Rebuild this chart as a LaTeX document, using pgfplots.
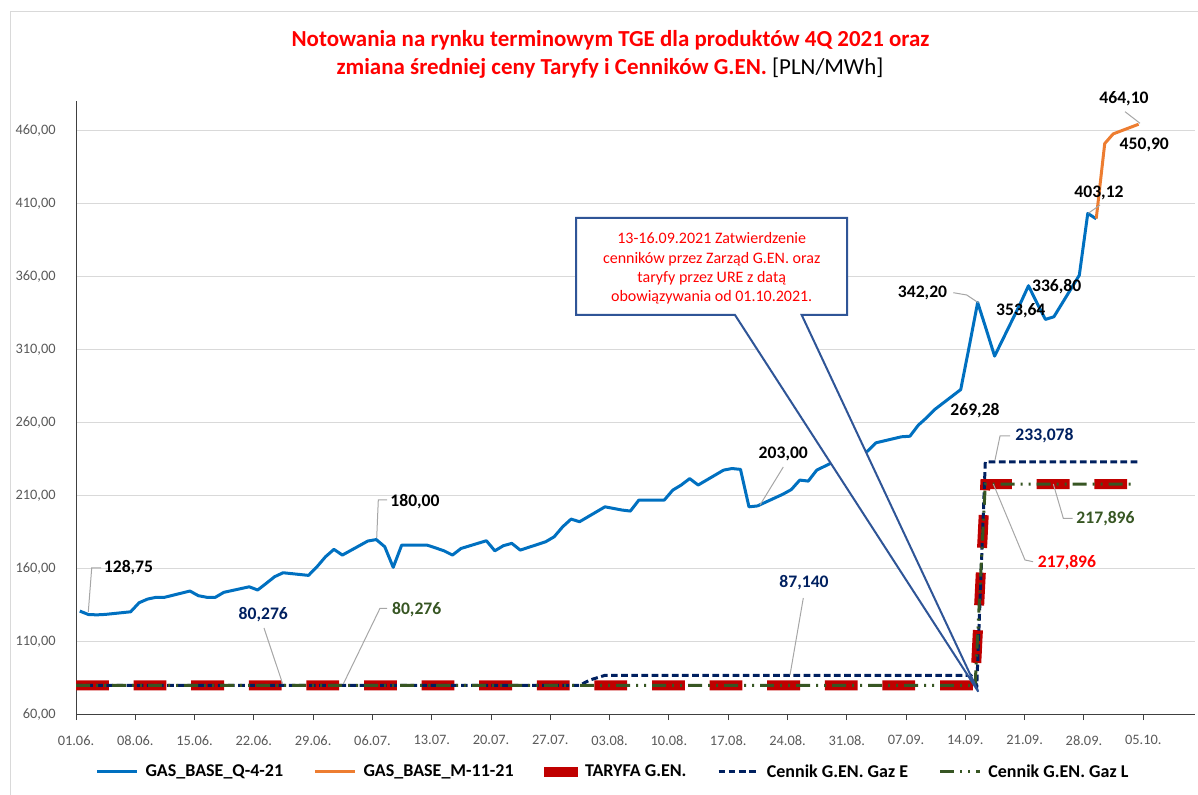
\documentclass[border=0pt]{standalone}
\usepackage{pgfplots}
\pgfplotsset{compat=1.18}
\usepackage{fontspec}
\setmainfont{Carlito}
\definecolor{cblue}{HTML}{0070C0}
\definecolor{corange}{HTML}{ED7D31}
\definecolor{cred}{HTML}{C00000}
\definecolor{cnavy}{HTML}{002060}
\definecolor{cgreen}{HTML}{375623}
\definecolor{cgrid}{HTML}{D9D9D9}
\definecolor{ctick}{HTML}{595959}
\definecolor{ccallout}{HTML}{2F5597}
\definecolor{clead}{HTML}{A6A6A6}
\definecolor{ctitle}{HTML}{FF0000}

\begin{document}
\begin{tikzpicture}
\useasboundingbox (0,0) rectangle (898.5pt,596.25pt);
\begin{axis}[
  at={(57pt,60pt)}, anchor=south west,
  scale only axis, width=839.25pt, height=460.5pt,
  xmin=-0.45, xmax=131.66, ymin=60, ymax=480,
  axis x line*=bottom, axis y line*=left,
  axis line style={draw=black!75, line width=0.75pt, -},
  xtick={-0.45,6.55,13.55,20.55,27.55,34.55,41.55,48.55,55.55,62.55,69.55,76.55,83.55,90.55,97.55,104.55,111.55,118.55,125.55},
  xticklabels={01.06.,08.06.,15.06.,22.06.,29.06.,06.07.,13.07.,20.07.,27.07.,03.08.,10.08.,17.08.,24.08.,31.08.,07.09.,14.09.,21.09.,28.09.,05.10.},
  ytick={60,110,...,460},
  ymajorgrids, grid style={cgrid, line width=0.75pt},
  tick align=outside, major tick length=3.75pt,
  xtick style={draw=black!75, line width=0.75pt},
  ytick style={draw=none},
  /pgf/number format/assume math mode=true,
  /pgf/number format/fixed,
  /pgf/number format/fixed zerofill,
  /pgf/number format/precision=2,
  /pgf/number format/use comma,
  /pgf/number format/1000 sep={},
  ticklabel style={font=\fontsize{10.8}{13}\selectfont, text=ctick},
  xticklabel style={yshift=-8pt},
  yticklabel style={xshift=-8pt},
  legend image code/.code={\draw[#1] (0pt,0pt) -- (30pt,0pt);},
  legend style={at={(0.4803,-0.0928)}, anchor=center, draw=none, fill=none,
    font=\fontsize{13.5}{16}\selectfont\bfseries, legend columns=5,
    /tikz/every odd column/.append style={column sep=3pt},
    /tikz/every even column/.append style={column sep=21pt}},
  legend cell align=left,
]
% GAS_BASE_Q-4-21
\addplot[cblue, line width=2.25pt, line join=round] coordinates {
(0,131.1) (1,128.75) (2,128.5) (3,128.8) (6,130.6) (7,136.8) (8,139.3) (9,140.5) (10,140.5)
(13,144.8) (14,141.6) (15,140.5) (16,140.5) (17,143.9) (20,147.7) (21,145.5) (22,150.0) (23,154.6) (24,157.3)
(27,155.5) (28,161.4) (29,168.2) (30,173.3) (31,169.4) (34,179.0) (35,180.0) (36,175.1) (37,161.0) (38,176.2)
(41,176.2) (42,174.3) (43,172.3) (44,169.4) (45,173.9) (48,179.2) (49,172.3) (50,175.8) (51,177.4) (52,172.8)
(55,178.5) (56,181.9) (57,188.7) (58,194.0) (59,192.2) (62,202.4) (63,201.3) (64,200.2) (65,199.5) (66,207.0)
(69,207.0) (70,213.8) (71,217.3) (72,221.7) (73,217.3) (76,227.5) (77,228.6) (78,228.0) (79,202.4) (80,203.0)
(83,211.0) (84,214.2) (85,220.7) (86,220.0) (87,227.5) (90,236.0) (91,237.5) (92,239.0) (93,240.5) (94,246.2)
(97,250.3) (98,250.7) (99,258.3) (100,263.5) (101,269.28) (104,282.6) (105,312.0) (106,342.2) (107,324.0) (108,305.5)
(111,341.0) (112,353.64) (113,341.8) (114,330.6) (115,332.4) (118,360.8) (119,403.12) (120,399.4)
};
\addlegendentry{GAS\_BASE\_Q-4-21}
% GAS_BASE_M-11-21
\addplot[corange, line width=2.25pt, line join=round] coordinates {
(120,399.6) (121,450.9) (122,457.5) (125,464.1)
};
\addlegendentry{GAS\_BASE\_M-11-21}
% TARYFA G.EN.
\addplot[cred, line width=7.5pt, dash pattern=on 24.6pt off 18.6pt,
  legend image code/.code={\path[fill=cred, draw=none] (0pt,-3.75pt) rectangle (25.5pt,3.75pt);}] coordinates {
(-0.45,80.276) (105.7,80.276) (106.9,217.896) (124.5,217.896)
};
\addlegendentry{TARYFA G.EN.}
% Cennik Gaz E
\addplot[cnavy, line width=2.25pt, dash pattern=on 5pt off 2.6pt] coordinates {
(-0.45,80.276) (59,80.276) (60.2,83.9) (62,87.14) (105.2,87.14) (105.9,80.5) (106.9,233.078) (125,233.078)
};
\addlegendentry{Cennik G.EN. Gaz E}
% Cennik Gaz L
\addplot[cgreen, line width=2.25pt, dash pattern=on 10.5pt off 4.5pt on 1.5pt off 4.5pt on 1.5pt off 4.5pt] coordinates {
(-0.45,80.276) (105.7,80.276) (106.9,217.896) (124.5,217.896)
};
\addlegendentry{Cennik G.EN. Gaz L}
\end{axis}

\begin{scope}[x=0.75pt, y=-0.75pt, yshift=596.25pt]
  % chart border
  \draw[cgrid, line width=0.75pt] (10,800) -- (10,12) -- (1205,12);
  % title
  \node[font=\fontsize{17.2}{20}\selectfont\bfseries, text=ctitle, inner sep=0] at (610.5,40)
    {Notowania na rynku terminowym TGE dla produktów 4Q 2021 oraz};
  \node[font=\fontsize{17.2}{20}\selectfont\bfseries, text=ctitle, inner sep=0] at (610,68)
    {zmiana średniej ceny Taryfy i Cenników G.EN. {\mdseries\color{black}[PLN/MWh]}};
  % callout
  \draw[ccallout, line width=1.5pt, fill=white, line join=miter]
    (576,218) -- (847,218) -- (847,315) -- (801.7,315) -- (978.3,691.7) -- (735,315) -- (576,315) -- cycle;
  \node[text=ctitle, align=center, font=\fontsize{12}{14.6}\selectfont] at (711.7,268.5)
    {13-16.09.2021 Zatwierdzenie\\cenników przez Zarząd G.EN. oraz\\taryfy przez URE z datą\\obowiązywania od 01.10.2021.};
  % leader lines
  \begin{scope}[clead, line width=0.75pt]
    \draw (88.3,612) -- (91.7,568) -- (101,568);
    \draw (376.7,538) -- (378.3,500) -- (387,500);
    \draw (282.7,684) -- (264,628);
    \draw (343.3,684) -- (380,608.3) -- (387,608.3);
    \draw (790,675) -- (803.3,598);
    \draw (760,505) -- (783.3,467);
    \draw (995,460) -- (1000,436) -- (1010,436);
    \draw (993.3,484) -- (1025,560) -- (1033,561.7);
    \draw (1053.3,484) -- (1063.3,518.3) -- (1072.7,518.3);
    \draw (953.3,292.7) -- (966.7,295) -- (978.3,302.7);
    \draw (1088.3,213.3) -- (1100,205);
    \draw (1125,111.7) -- (1140,123.3);
  \end{scope}
  % data labels
  \begin{scope}[every node/.style={font=\fontsize{13.2}{15}\selectfont\bfseries, inner sep=0}]
    \node at (128.5,568) {128,75};
    \node at (415,502) {180,00};
    \node[text=cnavy] at (263.3,614.3) {80,276};
    \node[text=cgreen] at (416.7,609.3) {80,276};
    \node[text=cnavy] at (804,582.7) {87,140};
    \node at (783.3,454.3) {203,00};
    \node at (975,410.7) {269,28};
    \node[text=cnavy] at (1044.5,436) {233,078};
    \node[text=ctitle] at (1067,562.7) {217,896};
    \node[text=cgreen] at (1105.5,518.3) {217,896};
    \node at (922.5,293.3) {342,20};
    \node at (1020.8,310.7) {353,64};
    \node at (1056.7,286.7) {336,80};
    \node at (1099,193.3) {403,12};
    \node at (1144.3,145) {450,90};
    \node at (1124,98.3) {464,10};
  \end{scope}
\end{scope}
\end{tikzpicture}
\end{document}
